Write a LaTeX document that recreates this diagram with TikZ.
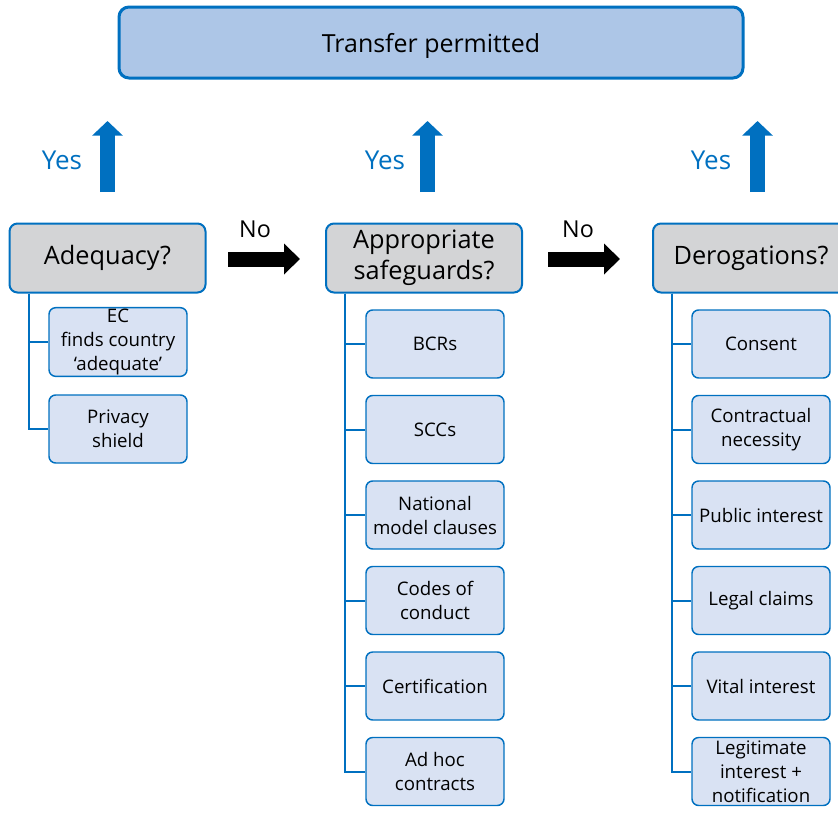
\documentclass[tikz,border=0pt]{standalone}
\usepackage{fontspec}
\setmainfont{Open Sans}
\usetikzlibrary{arrows.meta}

\definecolor{ruleblue}{RGB}{0,112,192}
\definecolor{permitfill}{RGB}{173,198,231}
\definecolor{askfill}{RGB}{211,212,214}
\definecolor{optfill}{RGB}{217,226,243}

\tikzset{
  permit/.style={draw=ruleblue, line width=2.25pt, fill=permitfill, rounded corners=7.5pt,
    minimum width=468pt, minimum height=53.25pt, text depth=0pt, font=\fontsize{18.7}{22}\selectfont},
  ask/.style={draw=ruleblue, line width=1.5pt, fill=askfill, rounded corners=6pt,
    minimum width=147pt, minimum height=51.75pt, align=center, font=\fontsize{19}{23}\selectfont},
  option/.style={draw=ruleblue, line width=1.1pt, fill=optfill, rounded corners=5pt,
    minimum width=103.5pt, minimum height=51pt, align=center, inner sep=1pt,
    font=\fontsize{14}{18}\selectfont},
  branch/.style={draw=ruleblue, line width=1.5pt},
  yesarrow/.style={draw=ruleblue, line width=11.25pt, -{Triangle[width=22.5pt,length=11pt]}},
  noarrow/.style={draw=black, line width=11.25pt, -{Triangle[width=22.5pt,length=12pt]}},
  yes/.style={text=ruleblue, font=\fontsize{19.5}{23}\selectfont},
  no/.style={font=\fontsize{17.5}{20}\selectfont},
}

\begin{document}
\begin{tikzpicture}[x=0.75pt, y=-0.75pt]
    \useasboundingbox (0,0) rectangle (838,814);

    % Outcome box at the top
    \node[permit] (permit) at (431,42.5) {Transfer permitted};

    % The three questions
    \node[ask] (adequacy) at (107.5,258) {Adequacy?};
    \node[ask] (safeguards) at (424,258) {Appropriate\\safeguards?};
    \node[ask] (derog) at (751,258) {Derogations?};

    % Yes arrows up to the outcome
    \coordinate (yesA0) at (107.5,192);
    \coordinate (yesA1) at (107.5,121);
    \coordinate (yesB0) at (427.5,192);
    \coordinate (yesB1) at (427.5,121);
    \coordinate (yesC0) at (757.5,192);
    \coordinate (yesC1) at (757.5,121);
    \draw[yesarrow] (yesA0) -- (yesA1);
    \draw[yesarrow] (yesB0) -- (yesB1);
    \draw[yesarrow] (yesC0) -- (yesC1);
    \node[yes] (yesA) at (62,160) {Yes};
    \node[yes] (yesB) at (385,160) {Yes};
    \node[yes] (yesC) at (711,160) {Yes};

    % No arrows to the next question
    \coordinate (noA0) at (228,259);
    \coordinate (noA1) at (300,259);
    \coordinate (noB0) at (548,259);
    \coordinate (noB1) at (620,259);
    \draw[noarrow] (noA0) -- (noA1);
    \draw[noarrow] (noB0) -- (noB1);
    \node[no] (noA) at (255,229) {No};
    \node[no] (noB) at (578,229) {No};

    % Adequacy options
    \node[option] (ec) at (118,342) {EC\\finds country\\`adequate'};
    \node[option] (shield) at (118,429) {Privacy\\shield};
    \draw[branch] ([xshift=15pt]adequacy.south west) |- (ec.west);
    \draw[branch] ([xshift=15pt]adequacy.south west) |- (shield.west);

    % Safeguard options
    \node[option] (bcr) at (435,344) {BCRs};
    \node[option] (scc) at (435,429.5) {SCCs};
    \node[option] (model) at (435,515) {National\\model clauses};
    \node[option] (codes) at (435,600.5) {Codes of\\conduct};
    \node[option] (cert) at (435,686) {Certification};
    \node[option] (adhoc) at (435,771.5) {Ad hoc\\contracts};
    \draw[branch] ([xshift=15pt]safeguards.south west) |- (bcr.west);
    \draw[branch] ([xshift=15pt]safeguards.south west) |- (scc.west);
    \draw[branch] ([xshift=15pt]safeguards.south west) |- (model.west);
    \draw[branch] ([xshift=15pt]safeguards.south west) |- (codes.west);
    \draw[branch] ([xshift=15pt]safeguards.south west) |- (cert.west);
    \draw[branch] ([xshift=15pt]safeguards.south west) |- (adhoc.west);

    % Derogation options
    \node[option] (consent) at (761,344) {Consent};
    \node[option] (contract) at (761,429.5) {Contractual\\necessity};
    \node[option] (public) at (761,515) {Public interest};
    \node[option] (legal) at (761,600.5) {Legal claims};
    \node[option] (vital) at (761,686) {Vital interest};
    \node[option] (legit) at (761,771.5) {Legitimate\\interest +\\notification};
    \draw[branch] ([xshift=15pt]derog.south west) |- (consent.west);
    \draw[branch] ([xshift=15pt]derog.south west) |- (contract.west);
    \draw[branch] ([xshift=15pt]derog.south west) |- (public.west);
    \draw[branch] ([xshift=15pt]derog.south west) |- (legal.west);
    \draw[branch] ([xshift=15pt]derog.south west) |- (vital.west);
    \draw[branch] ([xshift=15pt]derog.south west) |- (legit.west);
\end{tikzpicture}
\end{document}
